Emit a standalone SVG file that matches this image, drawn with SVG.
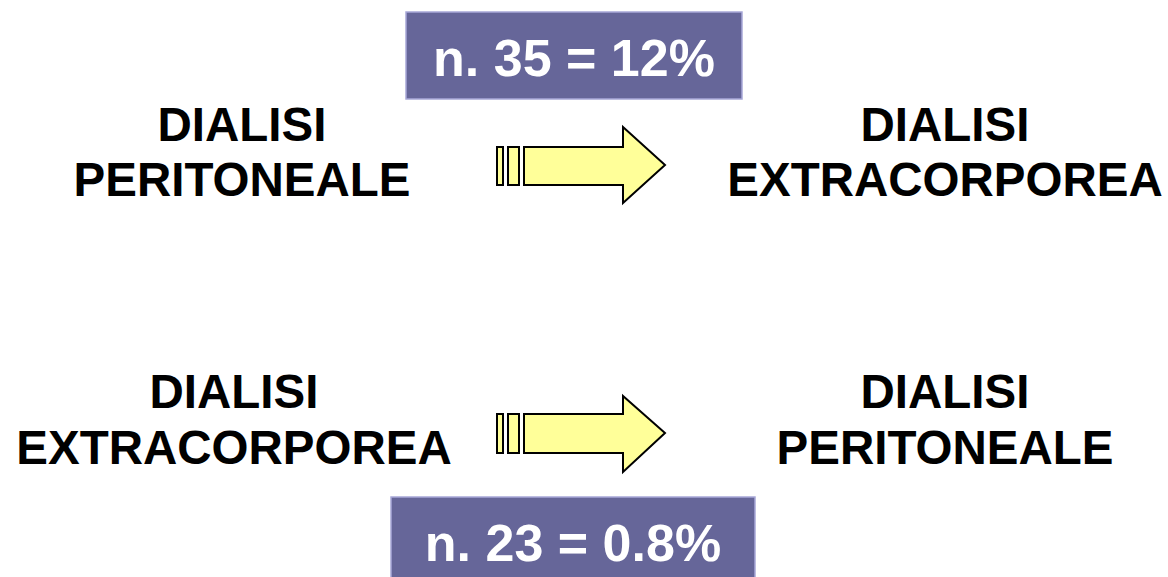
<svg xmlns="http://www.w3.org/2000/svg" width="1168" height="577" viewBox="0 0 1168 577">
<style>
.lbl{font-family:"Liberation Sans",Arial,sans-serif;font-weight:bold;font-size:47.5px;fill:#000;text-anchor:middle}
.val{font-family:"Liberation Sans",Arial,sans-serif;font-weight:bold;font-size:52px;fill:#fff;text-anchor:middle}
.box{fill:#666699;stroke:#a8a8d8;stroke-width:1.5}
.arr{fill:#ffff99;stroke:#000;stroke-width:2;stroke-linejoin:miter}
</style>
<rect width="1168" height="577" fill="#fff"/>
<g id="node-pd-top"><text class="lbl" x="242" y="141">DIALISI</text><text class="lbl" x="242" y="196">PERITONEALE</text></g>
<g id="node-hd-top"><text class="lbl" x="945" y="141">DIALISI</text><text class="lbl" x="945" y="196">EXTRACORPOREA</text></g>
<g id="node-hd-bottom"><text class="lbl" x="234" y="408">DIALISI</text><text class="lbl" x="234" y="464">EXTRACORPOREA</text></g>
<g id="node-pd-bottom"><text class="lbl" x="945" y="408">DIALISI</text><text class="lbl" x="945" y="464">PERITONEALE</text></g>
<g id="label-top"><rect class="box" x="406" y="12" width="336" height="87"/><text class="val" x="574" y="76">n. 35 = 12%</text></g>
<g id="label-bottom"><rect class="box" x="391" y="497" width="364" height="82"/><text class="val" x="573" y="561">n. 23 = 0.8%</text></g>
<g id="connectors">
<g><rect class="arr" x="497" y="147" width="6" height="38"/><rect class="arr" x="508" y="147" width="11" height="38"/><polygon class="arr" points="524,147 623,147 623,127 665,165 623,203 623,185 524,185"/></g>
<g><rect class="arr" x="497" y="414" width="6" height="39"/><rect class="arr" x="508" y="414" width="11" height="39"/><polygon class="arr" points="524,414 623,414 623,396 665,433 623,472 623,453 524,453"/></g>
</g>
</svg>
